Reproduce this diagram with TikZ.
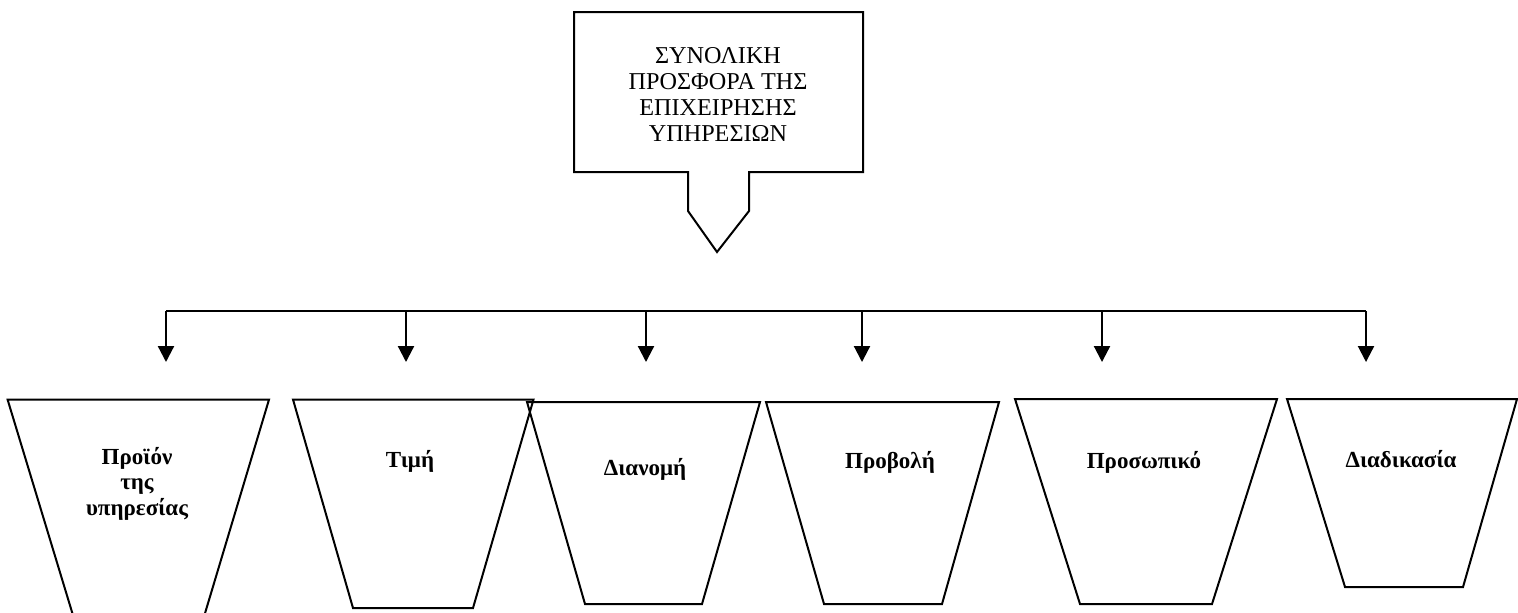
\documentclass[tikz,border=0pt]{standalone}
\usepackage{fontspec}
\setmainfont{Liberation Serif}
\usetikzlibrary{arrows.meta}
\tikzset{
	box/.style={draw=black, line width=1pt, line join=miter},
	lbl/.style={font=\fontsize{11.5}{12.6}\selectfont\bfseries, anchor=base, inner sep=0pt, align=center},
	feed/.style={-{Triangle[width=8pt,length=8pt]}, line width=1.1pt}
}
\begin{document}
\begin{tikzpicture}[x=0.5pt, y=-0.5pt]
	\useasboundingbox (0,0) rectangle (1518,612);
	\clip (0,0) rectangle (1518,612);
	
	\draw[box] (574,12) -- (863,12) -- (863,172) -- (749,172) -- (749,211) -- (717,252) -- (688,211) -- (688,172) -- (574,172) -- cycle;
	\node[font=\fontsize{12.1}{13}\selectfont, align=center, inner sep=0pt] (offer) at (718,94) {ΣΥΝΟΛΙΚΗ\\ΠΡΟΣΦΟΡΑ ΤΗΣ\\ΕΠΙΧΕΙΡΗΣΗΣ\\ΥΠΗΡΕΣΙΩΝ};
	
	\draw[line width=1.1pt] (166,311) -- (1366,311);
	\foreach \x/\n in {166/1, 406/2, 646/3, 862/4, 1102/5, 1366/6} {
		\coordinate (bar\n) at (\x,311);
		\coordinate (tip\n) at (\x,362);
		\draw[feed] (bar\n) -- (tip\n);
	}
	
	\draw[box] (7.6,399.6) -- (269,399.6) -- (197,640) -- (80.5,640) -- cycle;
	\node[lbl] (product) at (137,515) {Προϊόν\\της\\υπηρεσίας};
	
	\draw[box] (293,399.5) -- (533.5,399.5) -- (473,608) -- (353,608) -- cycle;
	\node[lbl] (price) at (410,467) {Τιμή};
	
	\draw[box] (527,402) -- (760,402) -- (702,604) -- (585,604) -- cycle;
	\node[lbl] (place) at (645,475) {Διανομή};
	
	\draw[box] (766,402) -- (999,402) -- (942,604) -- (824,604) -- cycle;
	\node[lbl] (promo) at (890,468) {Προβολή};
	
	\draw[box] (1015,399) -- (1277,399) -- (1212,604) -- (1080,604) -- cycle;
	\node[lbl] (people) at (1144,468) {Προσωπικό};
	
	\draw[box] (1287,399) -- (1517,399) -- (1463,587) -- (1345,587) -- cycle;
	\node[lbl] (process) at (1401,467) {Διαδικασία};
\end{tikzpicture}
\end{document}
